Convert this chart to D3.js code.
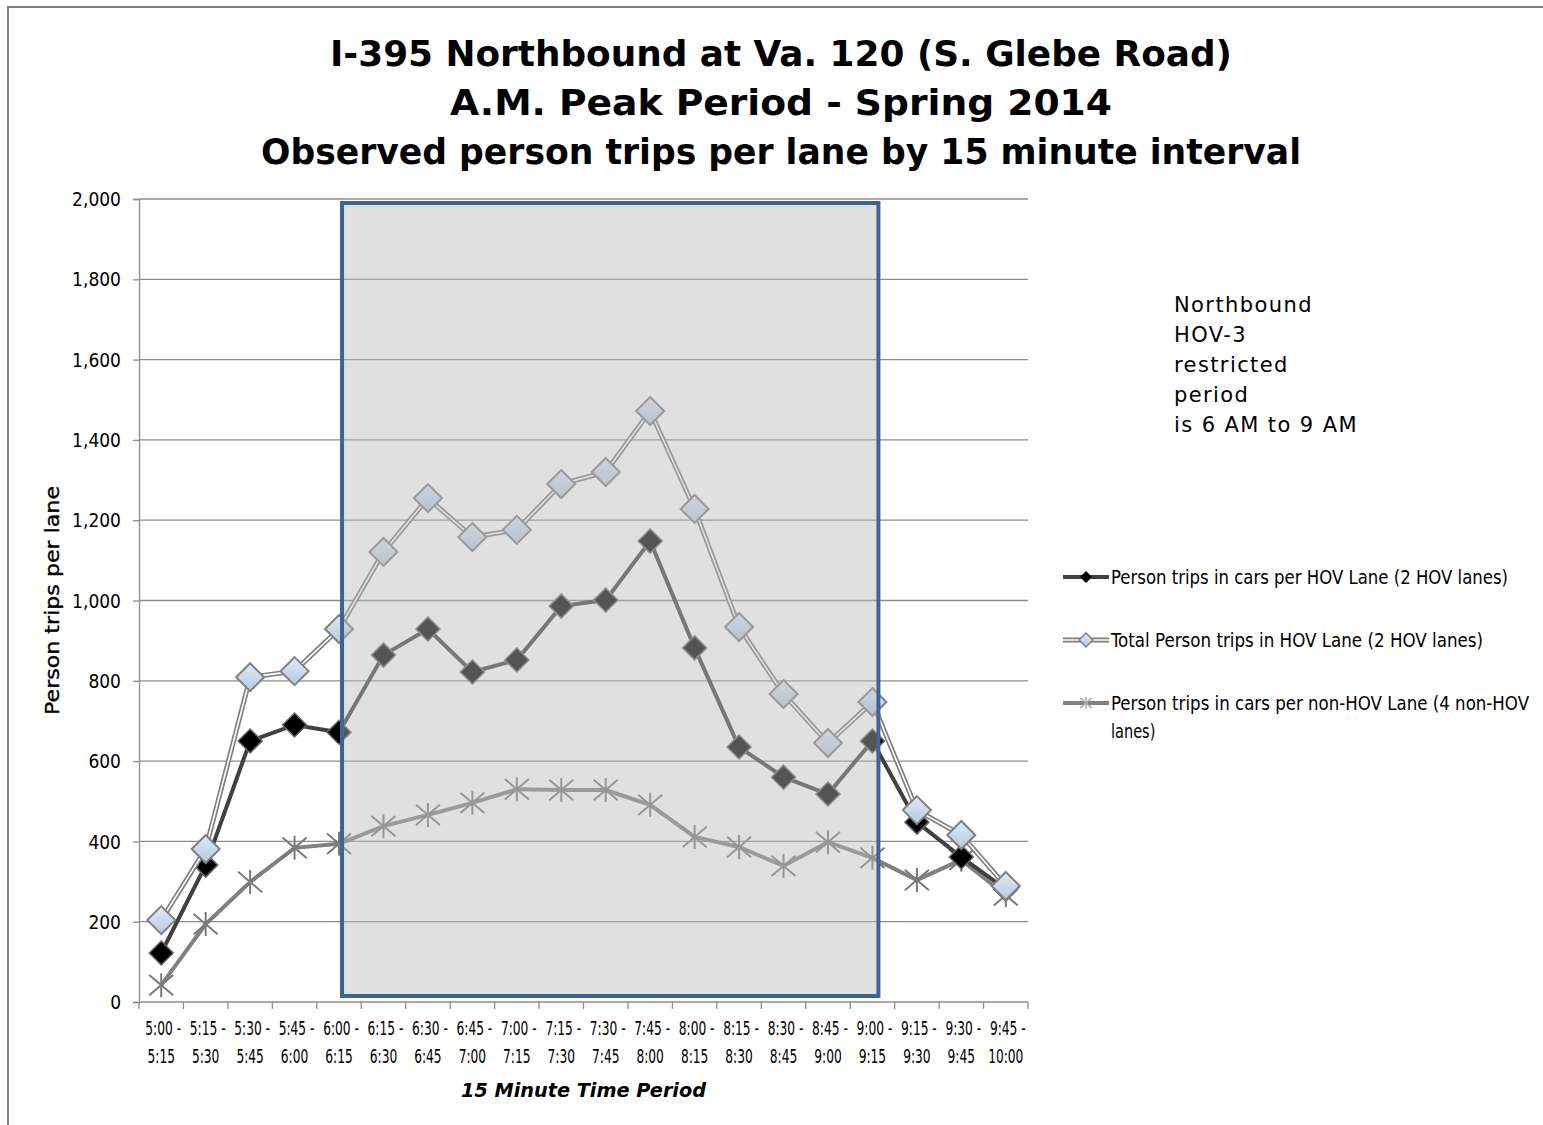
<!DOCTYPE html>
<html lang="en">
<head>
<meta charset="UTF-8">
<title>I-395 Northbound person trips per lane</title>
<script src="https://d3js.org/d3.v7.min.js"></script>
<style>
  body { margin: 0; background: #fff; }
  svg text { fill: #000; }
  .tick-y { font-family: "DejaVu Sans Condensed", "DejaVu Sans", sans-serif; font-size: 19px; }
  .tick-x { font-family: "DejaVu Sans Condensed", "DejaVu Sans", sans-serif; font-size: 20px; }
  .legend text { font-family: "DejaVu Sans Condensed", "DejaVu Sans", sans-serif; font-size: 19px; }
</style>
</head>
<body>
<svg id="chart" width="1543" height="1125"></svg>
<script>
// categories (15 minute periods)
const periodStart = ["5:00", "5:15", "5:30", "5:45", "6:00", "6:15", "6:30", "6:45", "7:00", "7:15",
                     "7:30", "7:45", "8:00", "8:15", "8:30", "8:45", "9:00", "9:15", "9:30", "9:45"];
const periodEnd   = ["5:15", "5:30", "5:45", "6:00", "6:15", "6:30", "6:45", "7:00", "7:15", "7:30",
                     "7:45", "8:00", "8:15", "8:30", "8:45", "9:00", "9:15", "9:30", "9:45", "10:00"];
const periods = periodStart.map((s, i) => s + " - " + periodEnd[i]);

// series values
const hovCarTrips   = [122, 341, 650, 690, 672, 864, 929, 822, 852, 986, 1001, 1148, 882, 635, 560, 518, 650, 448, 361, 281];
const hovTotalTrips = [204, 381, 809, 824, 929, 1121, 1255, 1158, 1176, 1290, 1320, 1472, 1228, 934, 767, 645, 747, 478, 416, 289];
const nonHovTrips   = [42, 194, 299, 384, 394, 438, 466, 496, 530, 528, 528, 491, 411, 386, 339, 398, 359, 304, 354, 266];

const yTicks = [0, 200, 400, 600, 800, 1000, 1200, 1400, 1600, 1800, 2000];

const seriesNames = [
  "Person trips in cars per HOV Lane (2 HOV lanes)",
  "Total Person trips in HOV Lane (2 HOV lanes)",
  "Person trips in cars per non-HOV Lane (4 non-HOV"
];

const titleLines = [
  "I-395 Northbound at Va. 120 (S. Glebe Road)",
  "A.M. Peak Period - Spring 2014",
  "Observed person trips per lane by 15 minute interval"
];
const noteLines = ["Northbound", "HOV-3", "restricted", "period", "is 6 AM to 9 AM"];

const svg = d3.select("#chart");
const plot = {left: 139, right: 1028, top: 199, bottom: 1002};

const x = d3.scaleBand().domain(periods).range([plot.left, plot.right]).padding(0);
const y = d3.scaleLinear().domain([0, 2000]).range([plot.bottom, plot.top]);
const cx = d => x(d) + x.bandwidth() / 2;

// defs: gradient for diamonds
const defs = svg.append("defs");
const grad = defs.append("linearGradient").attr("id", "blueFill")
  .attr("x1", 0).attr("y1", 0).attr("x2", 0).attr("y2", 1);
grad.append("stop").attr("offset", "0%").attr("stop-color", "#e2eaf6");
grad.append("stop").attr("offset", "100%").attr("stop-color", "#b4c8e2");

// outer frame
svg.append("rect").attr("x", 8).attr("y", 7).attr("width", 1560).attr("height", 1140)
  .attr("fill", "none").attr("stroke", "#7f7f7f").attr("stroke-width", 2);

// title
const titleW = [902, 662, 1040];
svg.append("g").selectAll("text").data(titleLines).join("text")
  .attr("x", 781).attr("y", (d, i) => 66 + i * 49)
  .attr("text-anchor", "middle")
  .attr("font-family", "'DejaVu Sans', sans-serif").attr("font-weight", "bold").attr("font-size", 36)
  .attr("textLength", (d, i) => titleW[i]).attr("lengthAdjust", "spacingAndGlyphs")
  .text(d => d);

// gridlines
svg.append("g").selectAll("line").data(yTicks.filter(d => d > 0)).join("line")
  .attr("x1", plot.left).attr("x2", plot.right)
  .attr("y1", d => y(d)).attr("y2", d => y(d))
  .attr("stroke", "#8c8c8c").attr("stroke-width", 1.3);

// y axis
const yAxis = svg.append("g").attr("transform", `translate(${plot.left},0)`)
  .call(d3.axisLeft(y).tickValues(yTicks).tickFormat(d3.format(",")).tickSize(6).tickPadding(12));
yAxis.select(".domain").attr("stroke", "#8c8c8c").attr("stroke-width", 1.3);
yAxis.selectAll(".tick line").attr("stroke", "#8c8c8c").attr("stroke-width", 1.3);
yAxis.selectAll(".tick text").attr("class", "tick-y").attr("font-size", null).attr("font-family", null).attr("dy", "0.35em");

// x axis: baseline and ticks between categories
svg.append("line").attr("x1", plot.left).attr("x2", plot.right)
  .attr("y1", y(0)).attr("y2", y(0)).attr("stroke", "#8c8c8c").attr("stroke-width", 1.3);
svg.append("g").selectAll("line").data(periods.concat([null])).join("line")
  .attr("x1", (d, i) => plot.left + i * x.bandwidth()).attr("x2", (d, i) => plot.left + i * x.bandwidth())
  .attr("y1", y(0)).attr("y2", y(0) + 7)
  .attr("stroke", "#8c8c8c").attr("stroke-width", 1.3);
// labels squeezed horizontally (the original used a narrow face)
const xg = svg.append("g").attr("class", "tick-x");
xg.selectAll("text.a").data(periods).join("text").attr("class", "a")
  .attr("text-anchor", "middle")
  .attr("transform", d => `translate(${cx(d) + 2},1035) scale(0.68,1)`)
  .text((d, i) => periodStart[i] + " -");
xg.selectAll("text.b").data(periods).join("text").attr("class", "b")
  .attr("text-anchor", "middle")
  .attr("transform", d => `translate(${cx(d)},1063) scale(0.68,1)`)
  .text((d, i) => periodEnd[i]);

// axis titles
svg.append("text").attr("x", (plot.left + plot.right) / 2).attr("y", 1097)
  .attr("text-anchor", "middle")
  .attr("font-family", "'DejaVu Sans', sans-serif").attr("font-weight", "bold").attr("font-style", "italic")
  .attr("font-size", 19).attr("textLength", 245).attr("lengthAdjust", "spacingAndGlyphs")
  .text("15 Minute Time Period");
svg.append("text").attr("transform", `translate(59,${(plot.top + plot.bottom) / 2}) rotate(-90)`)
  .attr("text-anchor", "middle")
  .attr("font-family", "'DejaVu Sans', sans-serif").attr("font-size", 20)
  .attr("stroke", "#000").attr("stroke-width", 0.35)
  .attr("textLength", 229).attr("lengthAdjust", "spacingAndGlyphs")
  .text("Person trips per lane");

// markers
const diamond = r => `M0,${-r}L${r},0L0,${r}L${-r},0Z`;
const star = r => `M${-r},${-r * 0.85}L${r},${r * 0.85}M${-r},${r * 0.85}L${r},${-r * 0.85}M0,${-r}L0,${r}`;

const line = d3.line().x((d, i) => cx(periods[i])).y(d => y(d));

// series 3: non-HOV
svg.append("path").datum(nonHovTrips).attr("d", line)
  .attr("fill", "none").attr("stroke", "#808080").attr("stroke-width", 4);
svg.append("g").selectAll("path").data(nonHovTrips).join("path")
  .attr("transform", (d, i) => `translate(${cx(periods[i])},${y(d)})`)
  .attr("d", star(12)).attr("fill", "none").attr("stroke", "#7a7a7a").attr("stroke-width", 2);

// series 1: HOV cars
svg.append("path").datum(hovCarTrips).attr("d", line)
  .attr("fill", "none").attr("stroke", "#404040").attr("stroke-width", 4);
svg.append("g").selectAll("path").data(hovCarTrips).join("path")
  .attr("transform", (d, i) => `translate(${cx(periods[i])},${y(d)})`)
  .attr("d", diamond(12)).attr("fill", "#000").attr("stroke", "#666").attr("stroke-width", 1.5);

// series 2: HOV total (double line)
svg.append("path").datum(hovTotalTrips).attr("d", line)
  .attr("fill", "none").attr("stroke", "#7f7f7f").attr("stroke-width", 5);
svg.append("path").datum(hovTotalTrips).attr("d", line)
  .attr("fill", "none").attr("stroke", "#fff").attr("stroke-width", 1.6);
svg.append("g").selectAll("path").data(hovTotalTrips).join("path")
  .attr("transform", (d, i) => `translate(${cx(periods[i])},${y(d)})`)
  .attr("d", diamond(14)).attr("fill", "url(#blueFill)").attr("stroke", "#808080").attr("stroke-width", 2);

// HOV-3 restricted period box (6:00 to 9:00), drawn over the series
const boxL = cx("6:00 - 6:15") + 3, boxR = cx("9:00 - 9:15") + 6;
svg.append("rect").attr("x", boxL).attr("y", y(1990))
  .attr("width", boxR - boxL).attr("height", y(15) - y(1990))
  .attr("fill", "rgb(187,187,187)").attr("fill-opacity", 0.45)
  .attr("stroke", "#3d6594").attr("stroke-width", 4);

// annotation
svg.append("g").selectAll("text").data(noteLines).join("text")
  .attr("x", 1174).attr("y", (d, i) => 312 + i * 30)
  .attr("font-family", "'DejaVu Sans', sans-serif").attr("font-size", 21)
  .attr("letter-spacing", 1.4)
  .text(d => d);

// legend
const legY = [577, 640, 703];
const leg = svg.append("g").attr("class", "legend");
leg.append("line").attr("x1", 1063).attr("x2", 1109).attr("y1", legY[0]).attr("y2", legY[0])
  .attr("stroke", "#404040").attr("stroke-width", 4);
leg.append("path").attr("transform", `translate(1086,${legY[0]})`).attr("d", diamond(6)).attr("fill", "#000");
leg.append("line").attr("x1", 1063).attr("x2", 1109).attr("y1", legY[1]).attr("y2", legY[1])
  .attr("stroke", "#7f7f7f").attr("stroke-width", 5);
leg.append("line").attr("x1", 1063).attr("x2", 1109).attr("y1", legY[1]).attr("y2", legY[1])
  .attr("stroke", "#fff").attr("stroke-width", 1.6);
leg.append("path").attr("transform", `translate(1086,${legY[1]})`).attr("d", diamond(7))
  .attr("fill", "url(#blueFill)").attr("stroke", "#808080").attr("stroke-width", 1.5);
leg.append("line").attr("x1", 1063).attr("x2", 1109).attr("y1", legY[2]).attr("y2", legY[2])
  .attr("stroke", "#808080").attr("stroke-width", 4);
leg.append("path").attr("transform", `translate(1086,${legY[2]})`).attr("d", star(6))
  .attr("fill", "none").attr("stroke", "#aaa").attr("stroke-width", 1.5);
const legW = [397, 372, 418];
leg.selectAll("text.item").data(seriesNames).join("text").attr("class", "item")
  .attr("x", 1111).attr("y", (d, i) => legY[i] + 7)
  .attr("textLength", (d, i) => legW[i]).attr("lengthAdjust", "spacingAndGlyphs")
  .text(d => d);
leg.append("text").attr("transform", `translate(1111,${legY[2] + 35}) scale(0.85,1)`).text("lanes)");
</script>
</body>
</html>
